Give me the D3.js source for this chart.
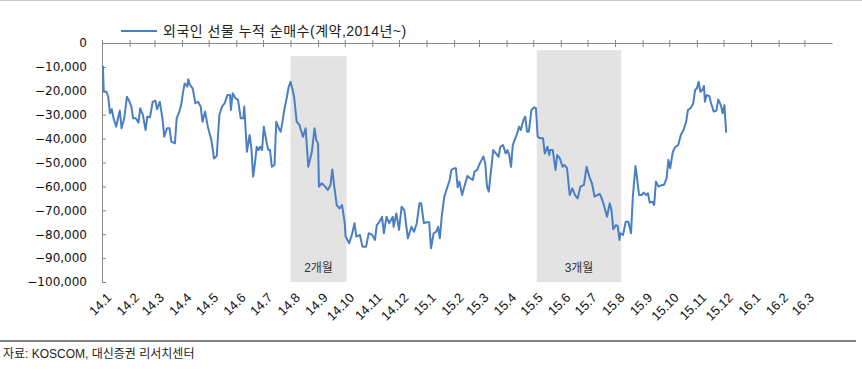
<!DOCTYPE html>
<html>
<head>
<meta charset="utf-8">
<script src="https://d3js.org/d3.v7.min.js"></script>
<style>
  body { margin: 0; background: #fff; }
  svg { display: block; }
</style>
</head>
<body>
<svg id="svg"></svg>
<script type="text/javascript">
    // 외국인 선물 누적 순매수 (계약), 일별 근사치
    const dates2014 = [
        '2014-01-02','2014-01-03','2014-01-06','2014-01-08','2014-01-10','2014-01-12','2014-01-14','2014-01-17','2014-01-19','2014-01-21',
        '2014-01-23','2014-01-26','2014-01-29','2014-02-01','2014-02-03','2014-02-05','2014-02-08','2014-02-11','2014-02-13','2014-02-16',
        '2014-02-19','2014-02-21','2014-02-24','2014-02-27','2014-03-02','2014-03-04','2014-03-07','2014-03-10','2014-03-12','2014-03-15',
        '2014-03-18','2014-03-20','2014-03-24','2014-03-26','2014-03-29','2014-03-31','2014-04-02','2014-04-04','2014-04-07','2014-04-08',
        '2014-04-10','2014-04-13','2014-04-16','2014-04-19','2014-04-22','2014-04-24','2014-04-27','2014-04-30','2014-05-04','2014-05-07',
        '2014-05-10','2014-05-13','2014-05-16','2014-05-19','2014-05-22','2014-05-25','2014-05-26','2014-05-28','2014-05-31','2014-06-03',
        '2014-06-06','2014-06-09','2014-06-10','2014-06-13','2014-06-16','2014-06-18','2014-06-20','2014-06-22','2014-06-24','2014-06-26',
        '2014-06-28','2014-06-30','2014-07-02','2014-07-05','2014-07-07','2014-07-09','2014-07-11','2014-07-14','2014-07-16','2014-07-19',
        '2014-07-21','2014-07-23','2014-07-25','2014-07-28','2014-07-30','2014-08-01','2014-08-03','2014-08-05','2014-08-08','2014-08-11',
        '2014-08-15','2014-08-18','2014-08-21','2014-08-25','2014-08-28','2014-08-30','2014-09-01','2014-09-02','2014-09-05','2014-09-09',
        '2014-09-12','2014-09-15','2014-09-17','2014-09-19','2014-09-22','2014-09-25','2014-09-28','2014-10-01','2014-10-02','2014-10-06',
        '2014-10-09','2014-10-12','2014-10-14','2014-10-18','2014-10-21','2014-10-25','2014-10-28','2014-11-01','2014-11-04','2014-11-06',
        '2014-11-09','2014-11-12','2014-11-14','2014-11-17','2014-11-20','2014-11-24','2014-11-25','2014-11-28','2014-12-01','2014-12-04',
        '2014-12-07','2014-12-11','2014-12-15','2014-12-18','2014-12-21','2014-12-24','2014-12-26','2014-12-29'
    ];
    const netBuy2014 = [
        -9500,-20400,-20400,-22500,-29400,-27700,-31500,-35000,-31500,-28300,
        -35700,-31500,-22500,-24600,-26600,-31500,-31500,-33300,-27300,-30100,
        -36400,-30800,-31100,-24600,-24100,-27700,-24600,-31500,-39200,-35700,
        -35700,-41300,-42000,-31500,-28700,-26000,-21000,-16900,-18300,-15200,
        -17600,-19000,-25200,-24600,-26600,-32900,-28700,-35000,-40600,-48300,
        -47300,-30100,-26600,-25200,-21800,-21800,-28000,-21000,-23100,-23800,
        -31500,-31500,-26600,-45500,-38500,-44100,-55900,-50300,-43400,-44800,
        -43400,-44800,-35000,-41300,-44800,-44800,-51800,-51000,-32900,-35700,
        -37100,-32900,-28000,-22500,-18300,-16200,-19000,-22500,-32900,-34300,
        -39200,-35700,-51800,-45500,-35700,-40600,-42000,-60100,-58700,-60100,
        -61500,-59400,-52900,-59400,-67800,-69200,-67800,-75400,-81000,-83800,
        -80300,-75400,-81000,-80300,-85200,-85200,-79600,-80300,-82400,-76200,
        -74800,-72700,-79600,-72700,-75400,-72700,-76900,-71300,-78200,-68500,
        -69900,-81700,-76900,-79000,-75400,-67100,-67100,-75400
    ];
    const dates2015 = [
        '2015-01-01','2015-01-04','2015-01-06','2015-01-09','2015-01-12','2015-01-14','2015-01-16','2015-01-18','2015-01-21','2015-01-24',
        '2015-01-27','2015-01-29','2015-02-01','2015-02-03','2015-02-05','2015-02-07','2015-02-10','2015-02-12','2015-02-16','2015-02-19',
        '2015-02-22','2015-02-24','2015-02-27','2015-03-02','2015-03-04','2015-03-06','2015-03-08','2015-03-10','2015-03-12','2015-03-14',
        '2015-03-17','2015-03-20','2015-03-23','2015-03-25','2015-03-28','2015-03-31','2015-04-02','2015-04-04','2015-04-06','2015-04-08',
        '2015-04-10','2015-04-13','2015-04-15','2015-04-17','2015-04-20','2015-04-22','2015-04-24','2015-04-26','2015-04-29','2015-05-02',
        '2015-05-04','2015-05-06','2015-05-09','2015-05-12','2015-05-14','2015-05-17','2015-05-19','2015-05-20','2015-05-23','2015-05-26',
        '2015-05-28','2015-05-31','2015-06-03','2015-06-05','2015-06-08','2015-06-11','2015-06-14','2015-06-17','2015-06-20','2015-06-23',
        '2015-06-27','2015-06-30','2015-07-03','2015-07-06','2015-07-09','2015-07-12','2015-07-15','2015-07-17','2015-07-20','2015-07-23',
        '2015-07-26','2015-07-28','2015-07-30','2015-08-02','2015-08-04','2015-08-06','2015-08-07','2015-08-10','2015-08-13','2015-08-16',
        '2015-08-19','2015-08-21','2015-08-24','2015-08-26','2015-08-28','2015-08-31','2015-09-02','2015-09-05','2015-09-07','2015-09-09',
        '2015-09-12','2015-09-14','2015-09-16','2015-09-19','2015-09-23','2015-09-25','2015-09-28','2015-09-30','2015-10-02','2015-10-05',
        '2015-10-08','2015-10-11','2015-10-14','2015-10-17','2015-10-20','2015-10-22','2015-10-25','2015-10-28','2015-10-30','2015-11-01',
        '2015-11-03','2015-11-05','2015-11-07','2015-11-09','2015-11-10','2015-11-12','2015-11-15','2015-11-17','2015-11-20','2015-11-23',
        '2015-11-25','2015-11-28','2015-11-30','2015-12-02','2015-12-04'
    ];
    const netBuy2015 = [
        -75000,-75000,-85900,-79600,-78900,-76900,-81700,-72700,-64300,-60800,
        -57300,-53100,-52400,-52400,-60400,-58000,-63600,-60800,-55600,-56600,
        -57300,-53800,-53100,-50300,-48900,-47500,-50300,-60100,-62200,-55200,
        -44800,-46200,-47600,-43400,-42700,-46200,-44800,-46900,-51800,-42700,
        -40600,-37800,-35000,-36400,-32200,-30800,-37100,-37100,-28000,-26900,
        -27300,-39200,-39900,-39900,-46200,-43400,-46900,-44800,-44800,-53100,
        -46900,-48300,-51800,-51000,-52400,-63600,-60800,-63600,-65000,-60100,
        -59400,-51800,-55900,-58700,-64300,-63600,-63200,-65000,-68500,-72700,
        -67100,-69900,-77900,-76200,-76600,-82400,-79600,-80300,-74800,-74800,
        -79600,-64300,-51500,-57300,-63600,-63600,-62600,-63600,-62900,-66800,
        -66400,-67800,-58000,-60100,-59400,-59400,-56600,-48900,-52400,-45500,
        -43400,-42700,-38500,-36400,-32900,-28000,-27300,-25200,-19700,-19000,
        -16200,-20400,-19700,-18000,-24600,-21800,-22200,-25200,-28700,-28300,
        -23600,-26000,-29400,-26000,-37500
    ];

    const monthLabels = ['14.1','14.2','14.3','14.4','14.5','14.6','14.7','14.8','14.9','14.10','14.11','14.12',
        '15.1','15.2','15.3','15.4','15.5','15.6','15.7','15.8','15.9','15.10','15.11','15.12',
        '16.1','16.2','16.3'];
    const yTicks = [0,-10000,-20000,-30000,-40000,-50000,-60000,-70000,-80000,-90000,-100000];

    // 음영 구간
    const shadeStart = ['2014-08-01','2015-05-05'];
    const shadeEnd = ['2014-10-03','2015-08-08'];
    const shadeTop = [-5500, -3000];
    const shadeLabels = ['2개월','3개월'];

    const legendText = '외국인 선물 누적 순매수(계약,2014년~)';
    const sourceText = '자료: KOSCOM, 대신증권 리서치센터';

    const parse = d3.timeParse('%Y-%m-%d');
    const allValues = netBuy2014.concat(netBuy2015);
    const series = dates2014.concat(dates2015).map((d, i) => ({
        date: parse(d),
        value: allValues[i]
    }));

    const width = 862, height = 376;
    const plotLeft = 102, plotRight = 832, plotTop = 43, plotBottom = 282;
    const lineColor = '#4a7fc3';
    const axisColor = '#868686';

    const svg = d3.select('#svg').attr('width', width).attr('height', height);

    const start = new Date(2014, 0, 1);
    const x = d3.scaleTime()
        .domain([start, new Date(2016, 3, 1)])
        .range([plotLeft, plotRight]);
    const y = d3.scaleLinear()
        .domain([-100000, 0])
        .range([plotBottom, plotTop]);

    // 상단 / 하단 구분선
    svg.append('line').attr('x1', 0).attr('x2', width).attr('y1', 0.5).attr('y2', 0.5)
        .attr('stroke', '#c8c8c8');
    svg.append('line').attr('x1', 0).attr('x2', 856).attr('y1', 341).attr('y2', 341)
        .attr('stroke', '#7f7f7f').attr('stroke-width', 2);

    // shaded periods
    const shades = shadeLabels.map((l, i) => ({
        s: parse(shadeStart[i]), e: parse(shadeEnd[i]), v: shadeTop[i], label: l
    }));
    svg.selectAll('rect.shade').data(shades).enter().append('rect')
        .attr('class', 'shade')
        .attr('x', d => x(d.s))
        .attr('width', d => x(d.e) - x(d.s))
        .attr('y', d => y(d.v))
        .attr('height', d => y(-100000) - y(d.v))
        .attr('fill', '#e3e3e3');
    svg.selectAll('text.shade').data(shades).enter().append('text')
        .attr('class', 'shade')
        .attr('x', d => (x(d.s) + x(d.e)) / 2)
        .attr('y', 272)
        .attr('text-anchor', 'middle')
        .attr('font-family', '"Liberation Sans", "Noto Sans CJK KR", sans-serif')
        .attr('font-size', 12)
        .attr('fill', '#333')
        .text(d => d.label);

    // y axis
    const fmt = d3.format(',');
    const yAxis = d3.axisLeft(y)
        .tickValues(yTicks)
        .tickSizeInner(-4)
        .tickSizeOuter(0)
        .tickPadding(15)
        .tickFormat(d => d === 0 ? '0' : '\u2212' + fmt(-d));
    const gy = svg.append('g').attr('transform', `translate(${plotLeft},0)`).call(yAxis);
    gy.select('.domain').attr('stroke', axisColor);
    gy.selectAll('.tick line').attr('stroke', axisColor);
    gy.selectAll('.tick text')
        .attr('font-family', '"DejaVu Sans", sans-serif')
        .attr('font-size', 12)
        .attr('fill', '#111');

    // x axis along zero line
    const months = monthLabels.map((l, i) => d3.timeMonth.offset(start, i));
    const xAxis = d3.axisTop(x)
        .tickValues(months)
        .tickSizeOuter(0)
        .tickFormat('');
    const gx = svg.append('g').attr('transform', `translate(0,${plotTop})`).call(xAxis);
    gx.select('.domain').attr('stroke', axisColor);
    gx.selectAll('.tick line').attr('stroke', axisColor).attr('y1', -3).attr('y2', 4);

    // month labels, rotated
    svg.selectAll('text.month').data(months).enter().append('text')
        .attr('class', 'month')
        .attr('transform', d => `translate(${x(d) + 4},${292}) rotate(-45)`)
        .attr('text-anchor', 'end')
        .attr('dy', '0.7em')
        .attr('font-family', '"Liberation Sans", sans-serif')
        .attr('font-size', 13)
        .attr('fill', '#111')
        .text((d, i) => monthLabels[i]);

    // line
    const line = d3.line()
        .x(d => x(d.date))
        .y(d => y(d.value));
    svg.append('path')
        .datum(series)
        .attr('d', line)
        .attr('fill', 'none')
        .attr('stroke', lineColor)
        .attr('stroke-width', 2)
        .attr('stroke-linejoin', 'round');

    // legend
    svg.append('line').attr('x1', 121).attr('x2', 157).attr('y1', 31).attr('y2', 31)
        .attr('stroke', lineColor).attr('stroke-width', 2);
    svg.append('text').attr('x', 163).attr('y', 36)
        .attr('font-family', '"Liberation Sans", "Noto Sans CJK KR", sans-serif')
        .attr('font-size', 14)
        .attr('letter-spacing', 0.5)
        .attr('fill', '#222')
        .text(legendText);

    // source
    svg.append('text').attr('x', 3).attr('y', 358)
        .attr('font-family', '"Liberation Sans", "Noto Sans CJK KR", sans-serif')
        .attr('font-size', 12)
        .attr('fill', '#222')
        .text(sourceText);
</script>
</body>
</html>
